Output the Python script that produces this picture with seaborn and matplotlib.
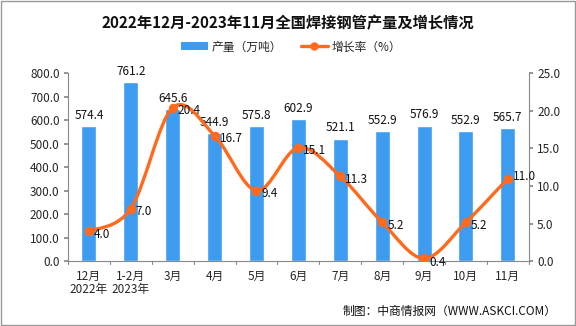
import matplotlib
matplotlib.use("Agg")
import matplotlib.pyplot as plt
import seaborn as sns
import numpy as np
import pandas as pd
from matplotlib.path import Path
from matplotlib.patches import PathPatch, Patch
from matplotlib.lines import Line2D

categories = ["12月\n2022年", "1-2月\n2023年", "3月", "4月", "5月", "6月", "7月", "8月", "9月", "10月", "11月"]
production = [574.4, 761.2, 645.6, 544.9, 575.8, 602.9, 521.1, 552.9, 576.9, 552.9, 565.7]
growth = [4.0, 7.0, 20.4, 16.7, 9.4, 15.1, 11.3, 5.2, 0.4, 5.2, 11.0]
left_ticks = [0, 100, 200, 300, 400, 500, 600, 700, 800]
right_ticks = [0, 5, 10, 15, 20, 25]

sns.set_theme(style="white")
plt.rcParams['font.family'] = ['Noto Sans CJK SC', 'DejaVu Sans']

BAR = "#3d9cf0"
LINE = "#ff6a1c"
AXC = "#888888"

fig = plt.figure(figsize=(5.76, 3.26), dpi=100)
ax = fig.add_axes([0.118, 0.198, 0.800, 0.578])
df = pd.DataFrame({"cat": categories, "prod": production, "g": growth})
sns.barplot(data=df, x="cat", y="prod", color=BAR, width=0.36, saturation=1, ax=ax)
ax.set_xlim(-0.5, len(categories) - 0.5)
ax.set_ylim(0, 800)
ax.set_yticks(left_ticks)
ax.set_yticklabels([f"{v:.1f}" for v in left_ticks], fontsize=8.5)
ax.set_xlabel("")
ax.set_ylabel("")
ax.set_xticks(range(len(categories)))
ax.set_xticklabels(categories, fontsize=8.5, linespacing=1.05)
ax.tick_params(axis="x", length=0, pad=6)
for b in np.arange(-0.5, len(categories), 1.0):
    ax.plot([b, b], [0, -10], color=AXC, lw=0.8, clip_on=False, transform=ax.transData)
ax.tick_params(axis="y", length=3, color=AXC, direction="out", pad=3)
for s in ["top", "right"]:
    ax.spines[s].set_visible(False)
for s in ["left", "bottom"]:
    ax.spines[s].set_color(AXC)
    ax.spines[s].set_linewidth(0.8)

for i, v in enumerate(production):
    ax.text(i, v + 18, f"{v:.1f}", ha="center", va="bottom", fontsize=8.5, color="#111111")

ax2 = ax.twinx()
ax2.set_ylim(0, 25)
ax2.set_yticks(right_ticks)
ax2.set_yticklabels([f"{v:.1f}" for v in right_ticks], fontsize=8.5)
ax2.tick_params(axis="y", length=3, color=AXC, direction="out", pad=3)
for s in ["top", "left", "bottom"]:
    ax2.spines[s].set_visible(False)
ax2.spines["right"].set_color(AXC)
ax2.spines["right"].set_linewidth(0.8)
ax2.grid(False)
ax.grid(False)

# smooth curve via cubic Bezier (Catmull-Rom control points)
xs = np.arange(len(growth), dtype=float)
ys = np.array(growth, dtype=float)
verts = [(xs[0], ys[0])]
codes = [Path.MOVETO]
n = len(xs)
for i in range(n - 1):
    p0 = np.array([xs[max(i - 1, 0)], ys[max(i - 1, 0)]])
    p1 = np.array([xs[i], ys[i]])
    p2 = np.array([xs[i + 1], ys[i + 1]])
    p3 = np.array([xs[min(i + 2, n - 1)], ys[min(i + 2, n - 1)]])
    c1 = p1 + (p2 - p0) / 6
    c2 = p2 - (p3 - p1) / 6
    verts += [tuple(c1), tuple(c2), tuple(p2)]
    codes += [Path.CURVE4] * 3
ax2.add_patch(PathPatch(Path(verts, codes), facecolor="none", edgecolor=LINE, lw=2.4, zorder=3))
sns.scatterplot(x=xs, y=ys, color=LINE, s=40, edgecolor=LINE, ax=ax2, zorder=4, legend=False)

for i, v in enumerate(growth):
    dy = -0.4
    if i == len(growth) - 1:
        dy = 0.3
    if v < 1:
        dy = -0.6
    ax2.text(i + 0.12, v + dy, f"{v:.1f}", ha="left", va="center", fontsize=8.5, color="#111111")

handles = [Patch(facecolor=BAR, edgecolor="none"),
           Line2D([0], [0], color=LINE, lw=2.4, marker="o", markersize=5)]
fig.legend(handles, ["产量（万吨）", "增长率（%）"], loc="center", bbox_to_anchor=(0.505, 0.856),
           ncol=2, frameon=False, fontsize=8.5, handlelength=2.3, columnspacing=1.6, handletextpad=0.3)

fig.text(0.5, 0.93, "2022年12月-2023年11月全国焊接钢管产量及增长情况", ha="center", va="center",
         fontsize=11, fontweight="bold", color="#111111")
fig.text(0.967, 0.045, "制图：中商情报网（WWW.ASKCI.COM）", ha="right", va="center", fontsize=8.5, color="#111111")

fig.patches.append(plt.Rectangle((0.001, 0.002), 0.997, 0.995, transform=fig.transFigure,
                                 fill=False, edgecolor="#999999", lw=1))
fig.savefig("out.png", dpi=100)
